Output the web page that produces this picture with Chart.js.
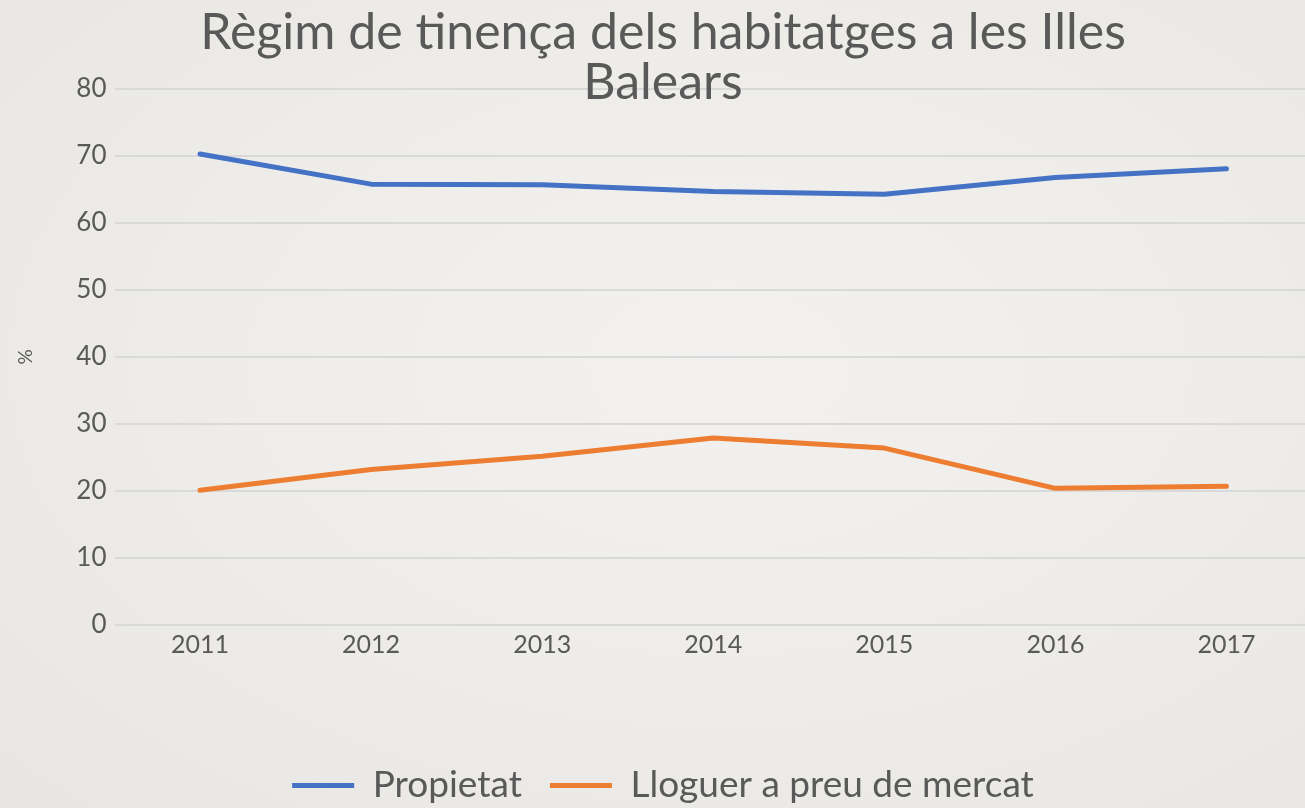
<!DOCTYPE html>
<html>
<head>
<meta charset="utf-8">
<script src="https://cdn.jsdelivr.net/npm/chart.js@4/dist/chart.umd.min.js"></script>
<style>
  html, body { margin: 0; padding: 0; width: 1305px; height: 808px; overflow: hidden;
    background: radial-gradient(ellipse at 55% 45%, #f2f1ef 0%, #eeedea 45%, #e8e6e3 100%); }
  #wrap { position: absolute; left: 0; top: 0; width: 1334px; height: 808px; }
</style>
</head>
<body>
<div id="wrap"><canvas id="c"></canvas></div>
<script>
const years = ['2011', '2012', '2013', '2014', '2015', '2016', '2017'];
const propietat = [70.3, 65.8, 65.7, 64.7, 64.3, 66.8, 68.1];
const lloguer = [20.1, 23.2, 25.2, 27.9, 26.4, 20.4, 20.7];
const seriesNames = ['Propietat', 'Lloguer a preu de mercat'];
const titleLines = ['Règim de tinença dels habitatges a les Illes', 'Balears'];
const yTitle = '%';

const FONT = 'Lato, "Open Sans", sans-serif';
const TXT = '#595959';

new Chart(document.getElementById('c'), {
  type: 'line',
  data: {
    labels: years,
    datasets: [
      { label: seriesNames[0], data: propietat, borderColor: '#4472C4', backgroundColor: '#4472C4',
        borderWidth: 5, pointRadius: 0, borderCapStyle: 'round', borderJoinStyle: 'round', tension: 0 },
      { label: seriesNames[1], data: lloguer, borderColor: '#ED7D31', backgroundColor: '#ED7D31',
        borderWidth: 5, pointRadius: 0, borderCapStyle: 'round', borderJoinStyle: 'round', tension: 0 }
    ]
  },
  options: {
    responsive: true,
    maintainAspectRatio: false,
    animation: false,
    layout: { padding: { left: 14, right: 22, top: 8, bottom: -6 } },
    plugins: {
      title: {
        display: true, text: titleLines, color: TXT,
        font: { family: FONT, size: 50, weight: 'normal', lineHeight: 1.0 },
        padding: { top: 0, bottom: -19 }
      },
      legend: {
        position: 'bottom',
        labels: {
          color: TXT, font: { family: FONT, size: 37 },
          usePointStyle: true, pointStyle: 'line', pointStyleWidth: 62,
          padding: 28, boxHeight: 5
        }
      },
      tooltip: { enabled: false }
    },
    scales: {
      x: {
        offset: true,
        grid: { display: false, drawTicks: false },
        border: { display: false },
        ticks: { color: TXT, font: { family: FONT, size: 25 }, padding: 5 },
        afterFit: (s) => { s.height = 114; }
      },
      y: {
        min: 0, max: 80,
        ticks: { stepSize: 10, color: TXT, font: { family: FONT, size: 26 }, padding: 8 },
        grid: { color: '#d9d9d9', lineWidth: 2, drawTicks: false },
        border: { display: false },
        title: { display: true, text: yTitle, color: TXT, font: { family: FONT, size: 19 }, padding: { top: 0, bottom: 0 } },
        afterFit: (s) => { s.width = 100.5; }
      }
    }
  }
});
</script>
</body>
</html>
